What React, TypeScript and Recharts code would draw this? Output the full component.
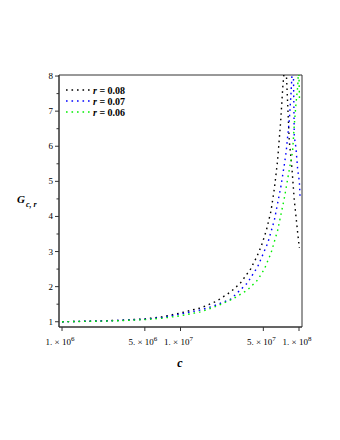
import React from "react";
import { LineChart, Line, XAxis, YAxis, ReferenceArea } from "recharts";

const cBlack = [1e6, 2e6, 3e6, 5e6, 7e6, 1e7, 1.5e7, 2e7, 2.65e7, 3.2e7, 3.9e7, 4.4e7, 4.8e7, 5.3e7, 5.8e7, 6.2e7, 6.6e7, 7e7, 7.3e7, 7.7e7, 8.28e7, 8.7e7, 9.12e7, 9.75e7, 1.007e8];
const gBlack = [1.0, 1.02, 1.04, 1.08, 1.14, 1.25, 1.4, 1.58, 1.85, 2.1, 2.5, 2.85, 3.15, 3.6, 4.15, 4.8, 5.6, 6.7, 7.7, 8.6, 6.14, 5.42, 4.47, 3.53, 3.1];

const cBlue = [1e6, 2e6, 3e6, 5e6, 7e6, 1e7, 1.5e7, 1.9e7, 2.65e7, 3.66e7, 4.48e7, 5.45e7, 6.2e7, 7.03e7, 7.5e7, 7.8e7, 8.28e7, 8.56e7, 8.75e7, 8.95e7, 9.12e7, 9.42e7, 9.75e7, 1.007e8, 1.02e8];
const gBlue = [1.0, 1.02, 1.035, 1.07, 1.12, 1.22, 1.34, 1.45, 1.64, 2.1, 2.57, 3.24, 3.9, 4.85, 5.45, 5.85, 6.75, 7.5, 8.1, 8.4, 6.28, 5.96, 5.33, 5.0, 4.57];

const cGreen = [1e6, 2e6, 3e6, 5e6, 7e6, 1e7, 1.47e7, 2.05e7, 2.8e7, 3.66e7, 4.48e7, 5.1e7, 5.8e7, 6.6e7, 7.5e7, 8.28e7, 8.83e7, 9.12e7, 9.42e7, 9.75e7, 9.95e7, 1.01e8];
const gGreen = [1.0, 1.015, 1.03, 1.06, 1.1, 1.17, 1.28, 1.45, 1.66, 1.9, 2.19, 2.5, 2.95, 3.6, 4.5, 5.33, 5.85, 6.6, 7.2, 7.7, 8.3, 7.3];

const seriesNames = ["0.08", "0.07", "0.06"];
const seriesColors = ["#000000", "#0000ff", "#00ee00"];

const xDomain = [943000, 1.06e8];
const yDomain = [0.85, 8.03];
const xTicks = [1e6, 5e6, 1e7, 5e7, 1e8];
const xMantissa = ["1.", "5.", "1.", "5.", "1."];
const xExponent = ["6", "6", "7", "7", "8"];
const yTicks = [1, 1.5, 2, 2.5, 3, 3.5, 4, 4.5, 5, 5.5, 6, 6.5, 7, 7.5, 8];

const build = (cs: number[], gs: number[]) => cs.map((c, i) => ({ c, g: gs[i] }));
const dataBlack = build(cBlack, gBlack);
const dataBlue = build(cBlue, gBlue);
const dataGreen = build(cGreen, gGreen);

const FONT = "'Liberation Serif', 'Times New Roman', serif";
const AXIS = "#333";
const DASH = "1.6 3.9";

const XTick = (props: any) => {
  const { x, y, payload } = props;
  const i = xTicks.indexOf(payload.value);
  return (
    <g>
      <line x1={x} y1={y} x2={x} y2={y + 4} stroke={AXIS} strokeWidth={1} />
      <text x={x - 2} y={y + 18} textAnchor="middle" fontFamily={FONT} fontSize={9} fill="#000">
        {xMantissa[i]} × 10
        <tspan dy={-4} fontSize={7}>{xExponent[i]}</tspan>
      </text>
    </g>
  );
};

const YTick = (props: any) => {
  const { x, y, payload } = props;
  const major = Number.isInteger(payload.value);
  return (
    <g>
      <line x1={x} y1={y} x2={x - (major ? 4 : 2.5)} y2={y} stroke={AXIS} strokeWidth={1} />
      {major && (
        <text x={x - 6} y={y + 3} textAnchor="end" fontFamily={FONT} fontSize={9} fill="#000">
          {payload.value}
        </text>
      )}
    </g>
  );
};

const LegendBox = () => (
  <svg width={80} height={36} style={{ position: "absolute", left: 63, top: 84 }}>
    {seriesNames.map((n, i) => (
      <g key={n}>
        <line x1={3} y1={6 + i * 11} x2={27} y2={6 + i * 11} stroke={seriesColors[i]} strokeWidth={1.4} strokeDasharray={DASH} />
        <text x={30} y={9.5 + i * 11} fontFamily={FONT} fontSize={10} fontWeight="bold" fill="#000">
          <tspan fontStyle="italic">r</tspan> = {n}
        </text>
      </g>
    ))}
  </svg>
);

export default function App() {
  return (
    <div style={{ position: "absolute", left: 0, top: 0, width: 340, height: 440, background: "#fff" }}>
      <LineChart width={340} height={440} margin={{ top: 75, right: 38, bottom: 83, left: 19 }}>
        <XAxis
          dataKey="c"
          type="number"
          scale="log"
          domain={xDomain}
          allowDataOverflow
          ticks={xTicks}
          tick={<XTick />}
          tickLine={false}
          tickSize={0}
          tickMargin={0}
          height={30}
          stroke={AXIS}
          interval={0}
          label={{
            content: () => (
              <text x={180} y={367} fontFamily={FONT} fontSize={12} fontWeight="bold" fontStyle="italic" textAnchor="middle">c</text>
            ),
          }}
        />
        <YAxis
          type="number"
          domain={yDomain}
          allowDataOverflow
          ticks={yTicks}
          tick={<YTick />}
          tickLine={false}
          tickSize={0}
          tickMargin={0}
          width={40}
          stroke={AXIS}
          interval={0}
          label={{
            content: () => (
              <text x={17} y={203} fontFamily={FONT} fontWeight="bold" fontStyle="italic" fill="#000">
                <tspan fontSize={11}>G</tspan>
                <tspan fontSize={8} dy={4} dx={1}>c, r</tspan>
              </text>
            ),
          }}
        />
        <ReferenceArea x1={xDomain[0]} x2={xDomain[1]} y1={yDomain[0]} y2={yDomain[1]} fill="none" stroke={AXIS} strokeWidth={1} ifOverflow="visible" />
        <Line data={dataBlack} dataKey="g" name="r = 0.08" type="linear" stroke={seriesColors[0]} strokeWidth={1.4} strokeDasharray={DASH} dot={false} isAnimationActive={false} />
        <Line data={dataBlue} dataKey="g" name="r = 0.07" type="linear" stroke={seriesColors[1]} strokeWidth={1.4} strokeDasharray={DASH} dot={false} isAnimationActive={false} />
        <Line data={dataGreen} dataKey="g" name="r = 0.06" type="linear" stroke={seriesColors[2]} strokeWidth={1.4} strokeDasharray={DASH} dot={false} isAnimationActive={false} />
      </LineChart>
      <LegendBox />
    </div>
  );
}
